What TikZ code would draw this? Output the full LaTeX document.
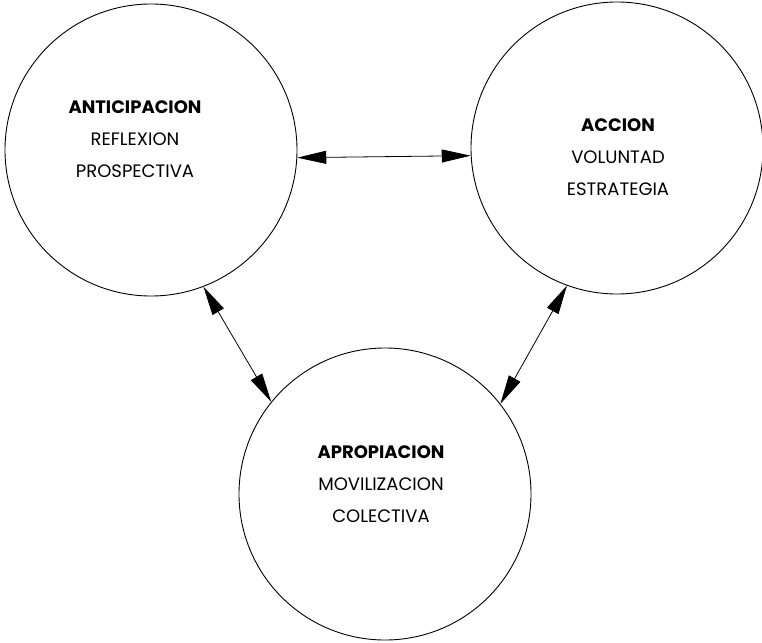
\documentclass[tikz,border=0pt]{standalone}
\usepackage{fontspec}
\setmainfont{Poppins}
\usepackage{tikz}
\usetikzlibrary{arrows.meta}

\tikzset{
  circ/.style={draw,circle,line width=0.9pt,minimum size=292pt,inner sep=0pt},
  txt/.style={align=center,font=\fontsize{18}{32}\selectfont},
  link/.style={line width=0.8pt,{Triangle[length=29pt,width=13pt]}-{Triangle[length=29pt,width=13pt]}}
}

\begin{document}
\begin{tikzpicture}[x=1pt,y=-1pt]
			\useasboundingbox (0,0) rectangle (762,642);
			\node[circ] (ant) at (151,150) {};
			\node[circ] (acc) at (617,148) {};
			\node[circ] (apr) at (385,494) {};
			\node[txt] (antT) at (135,139) {\textbf{ANTICIPACION}\\REFLEXION\\PROSPECTIVA};
			\node[txt] (accT) at (618,157) {\textbf{ACCION}\\VOLUNTAD\\ESTRATEGIA};
			\node[txt] (aprT) at (381,484) {\textbf{APROPIACION}\\MOVILIZACION\\COLECTIVA};
			\draw[link] (ant.-3) -- (acc.183);
			\draw[link] (ant.-69.3) -- (apr.141.8);
			\draw[link] (acc.250.3) -- (apr.38.2);
		\end{tikzpicture}
\end{document}
